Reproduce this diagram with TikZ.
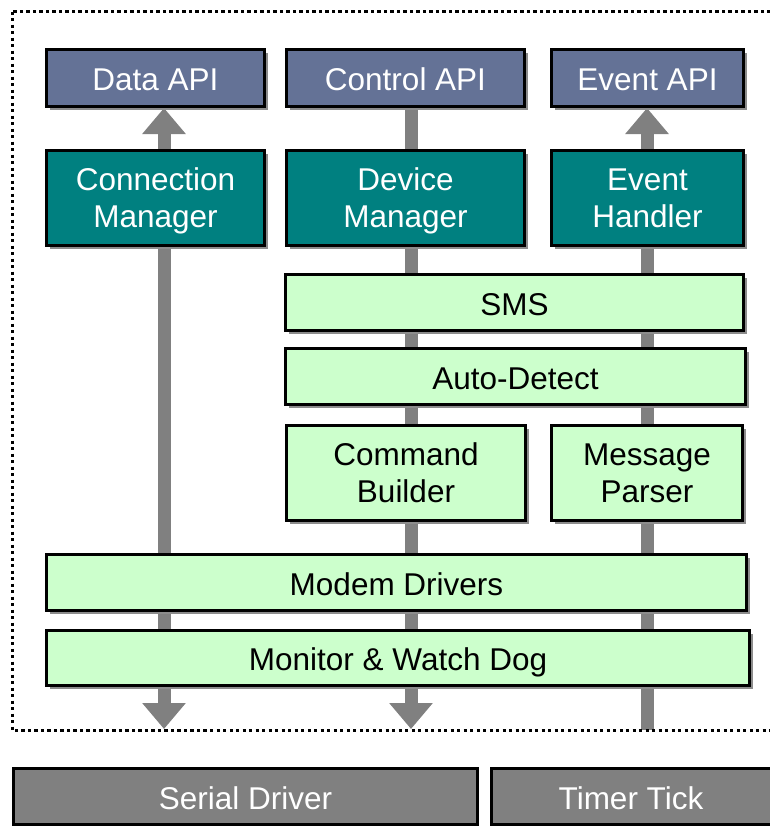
\documentclass[tikz,border=0pt]{standalone}
\usepackage{fontspec}
\setmainfont{Liberation Sans}
\usepackage{xcolor}
\usetikzlibrary{calc, positioning, arrows.meta, shadows, backgrounds}

\definecolor{apiblue}{RGB}{100,114,150}
\definecolor{mgrteal}{RGB}{0,128,128}
\definecolor{layergreen}{RGB}{204,255,204}
\definecolor{extgray}{RGB}{128,128,128}
\definecolor{pipegray}{RGB}{128,128,128}

\begin{document}
\begin{tikzpicture}[x=1pt, y=-1pt,
        box/.style={draw=black, line width=3pt, inner sep=0, align=center, text depth=0pt,
            font=\fontsize{31.5}{37}\selectfont,
            drop shadow={shadow xshift=3pt, shadow yshift=-3pt, fill=black!45, opacity=1}},
        api/.style={box, fill=apiblue, text=white, text height=25.5pt, minimum height=57pt},
        mgr/.style={box, fill=mgrteal, text=white, minimum height=95pt},
        layer/.style={box, fill=layergreen, text=black},
        band/.style={layer, text height=25.5pt},
        ext/.style={draw=black, line width=3pt, inner sep=0, fill=extgray, text=white,
            text height=25.5pt, text depth=0pt,
            font=\fontsize{31.5}{37}\selectfont, minimum height=56pt},
        pipe/.style={draw=pipegray, line width=13pt},
        head/.tip={Triangle[width=42pt, length=26pt]},
        frame/.style={draw=black, line width=3pt, dash pattern=on 3.3pt off 3.2pt}]

    \useasboundingbox (0,0) rectangle (770,827);

    % dotted boundary
    \draw[frame] (12.5,11.5) rectangle (810,730.5);

    % APIs
    \node[api, minimum width=218pt] (dataapi) at (155.5,78) {Data API};
    \node[api, minimum width=238pt] (ctrlapi) at (405.5,78) {Control API};
    \node[api, minimum width=192pt] (evtapi) at (647.5,78) {Event API};

    % managers
    \node[mgr, minimum width=218pt] (connmgr) at (155.5,198) {Connection\\Manager};
    \node[mgr, minimum width=238pt] (devmgr) at (405.5,198) {Device\\Manager};
    \node[mgr, minimum width=192pt] (evthdl) at (647.5,198) {Event\\Handler};

    % inner layers
    \node[band, minimum width=458pt, minimum height=56pt] (sms) at (514.5,302.5) {SMS};
    \node[band, minimum width=460pt, minimum height=56pt] (autodet) at (515.5,376.5) {Auto-Detect};
    \node[layer, minimum width=239pt, minimum height=95pt] (cmdbld) at (406,473) {Command\\Builder};
    \node[layer, minimum width=191pt, minimum height=95pt] (msgprs) at (647,473) {Message\\Parser};
    \node[band, minimum width=700pt, minimum height=56pt] (modem) at (396.5,582.5) {Modem Drivers};
    \node[band, minimum width=703pt, minimum height=55pt] (monitor) at (398,658) {Monitor \& Watch Dog};

    % outside
    \node[ext, minimum width=464pt] (serial) at (245.5,796.5) {Serial Driver};
    \node[ext, minimum width=280pt] (timer) at (631,796.5) {Timer Tick};

    % pipes
    \coordinate (out1) at (164,729);
    \coordinate (out2) at (411,729);
    \coordinate (out3) at (647,730);
    \begin{scope}[on background layer]
        \draw[pipe, head-head] (out1) -- (out1 |- dataapi.south);
        \draw[pipe, -head] (out2 |- ctrlapi.south) -- (out2);
        \draw[pipe, head-] (out3 |- evtapi.south) -- (out3);
    \end{scope}
\end{tikzpicture}
\end{document}
